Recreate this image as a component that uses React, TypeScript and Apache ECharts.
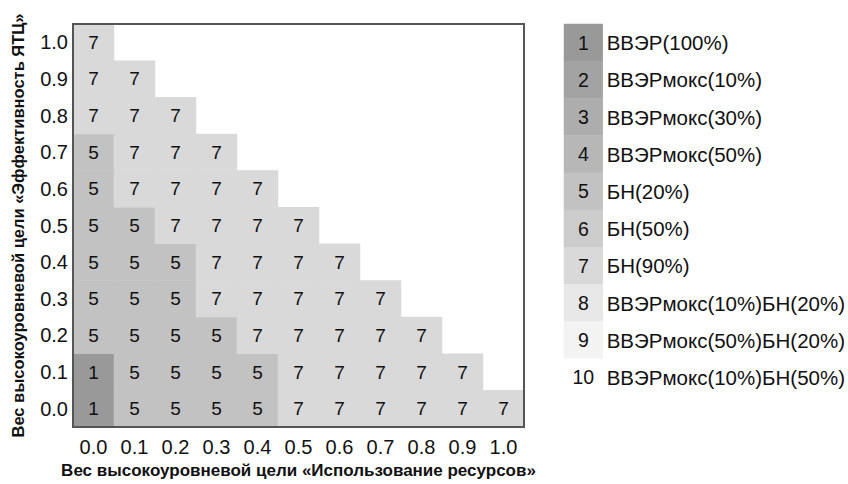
import React, { useEffect, useRef } from "react";
import * as echarts from "echarts";

const xCategories = ["0.0", "0.1", "0.2", "0.3", "0.4", "0.5", "0.6", "0.7", "0.8", "0.9", "1.0"];
const yCategories = ["0.0", "0.1", "0.2", "0.3", "0.4", "0.5", "0.6", "0.7", "0.8", "0.9", "1.0"];

// rows from y = 0.0 (bottom) to 1.0 (top); each row lists values for x = 0.0, 0.1, ...
const row00 = [1, 5, 5, 5, 5, 7, 7, 7, 7, 7, 7];
const row01 = [1, 5, 5, 5, 5, 7, 7, 7, 7, 7];
const row02 = [5, 5, 5, 5, 7, 7, 7, 7, 7];
const row03 = [5, 5, 5, 7, 7, 7, 7, 7];
const row04 = [5, 5, 5, 7, 7, 7, 7];
const row05 = [5, 5, 7, 7, 7, 7];
const row06 = [5, 7, 7, 7, 7];
const row07 = [5, 7, 7, 7];
const row08 = [7, 7, 7];
const row09 = [7, 7];
const row10 = [7];
const rows = [row00, row01, row02, row03, row04, row05, row06, row07, row08, row09, row10];

const legendCodes = [1, 2, 3, 4, 5, 6, 7, 8, 9, 10];
const legendNames = [
  "ВВЭР(100%)",
  "ВВЭРмокс(10%)",
  "ВВЭРмокс(30%)",
  "ВВЭРмокс(50%)",
  "БН(20%)",
  "БН(50%)",
  "БН(90%)",
  "ВВЭРмокс(10%)БН(20%)",
  "ВВЭРмокс(50%)БН(20%)",
  "ВВЭРмокс(10%)БН(50%)",
];
const codeColors = [
  "#999999",
  "#a3a3a3",
  "#adadad",
  "#b7b7b7",
  "#c2c2c2",
  "#cccccc",
  "#d9d9d9",
  "#e7e7e7",
  "#f3f3f3",
  "#ffffff",
];

const FONT = "'Liberation Sans', Arial, sans-serif";

export default function App() {
  const ref = useRef<HTMLDivElement>(null);
  useEffect(() => {
    if (!ref.current) return;
    const chart = echarts.init(ref.current, undefined, { renderer: "svg" });

    const mainData: any[] = [];
    rows.forEach((row, yi) => {
      row.forEach((v, xi) => {
        mainData.push([xi, yi, v]);
      });
    });
    const legendData = legendCodes.map((c, i) => [0, i, c]);

    chart.setOption({
      animation: false,
      textStyle: { fontFamily: FONT },
      visualMap: {
        type: "piecewise",
        show: false,
        dimension: 2,
        seriesIndex: [0, 1],
        pieces: legendCodes.map((c) => ({ value: c, color: codeColors[c - 1] })),
      },
      grid: [
        {
          left: 73,
          top: 24,
          width: 451,
          height: 407,
          show: true,
          borderColor: "#555555",
          borderWidth: 2,
          backgroundColor: "transparent",
          z: 5,
        },
        { left: 564, top: 24, width: 41, height: 372 },
      ],
      xAxis: [
        {
          gridIndex: 0,
          type: "category",
          data: xCategories,
          axisLine: { show: false },
          axisTick: { show: false },
          splitLine: { show: false },
          axisLabel: { color: "#111", fontSize: 20, margin: 10, fontFamily: FONT },
          name: "Вес высокоуровневой цели «Использование ресурсов»",
          nameLocation: "middle",
          nameGap: 35,
          nameTextStyle: { color: "#111", fontSize: 17, fontWeight: "bold", fontFamily: FONT },
        },
        {
          gridIndex: 1,
          type: "category",
          data: [""],
          show: false,
        },
      ],
      yAxis: [
        {
          gridIndex: 0,
          type: "category",
          data: yCategories,
          axisLine: { show: false },
          axisTick: { show: false },
          splitLine: { show: false },
          axisLabel: { color: "#111", fontSize: 20, margin: 5, fontFamily: FONT },
          name: "Вес высокоуровневой цели «Эффективность ЯТЦ»",
          nameLocation: "middle",
          nameGap: 47,
          nameRotate: 90,
          nameTextStyle: { color: "#111", fontSize: 16.5, fontWeight: "bold", fontFamily: FONT },
        },
        {
          gridIndex: 1,
          type: "category",
          data: legendNames,
          inverse: true,
          position: "right",
          axisLine: { show: false },
          axisTick: { show: false },
          splitLine: { show: false },
          axisLabel: { color: "#111", fontSize: 20.5, margin: 4, align: "left", fontFamily: FONT },
        },
      ],
      series: [
        {
          type: "heatmap",
          xAxisIndex: 0,
          yAxisIndex: 0,
          data: mainData,
          label: { show: true, color: "#111", fontSize: 19, fontFamily: FONT, formatter: (p: any) => String(p.value[2]) },
          emphasis: { disabled: true },
        },
        {
          type: "heatmap",
          xAxisIndex: 1,
          yAxisIndex: 1,
          data: legendData,
          label: { show: true, color: "#111", fontSize: 19.5, fontFamily: FONT, formatter: (p: any) => String(p.value[2]) },
          emphasis: { disabled: true },
        },
      ],
    });
    return () => chart.dispose();
  }, []);
  return (
    <div
      ref={ref}
      style={{ position: "fixed", left: 0, top: 0, width: 848, height: 484, background: "#fff" }}
    />
  );
}
